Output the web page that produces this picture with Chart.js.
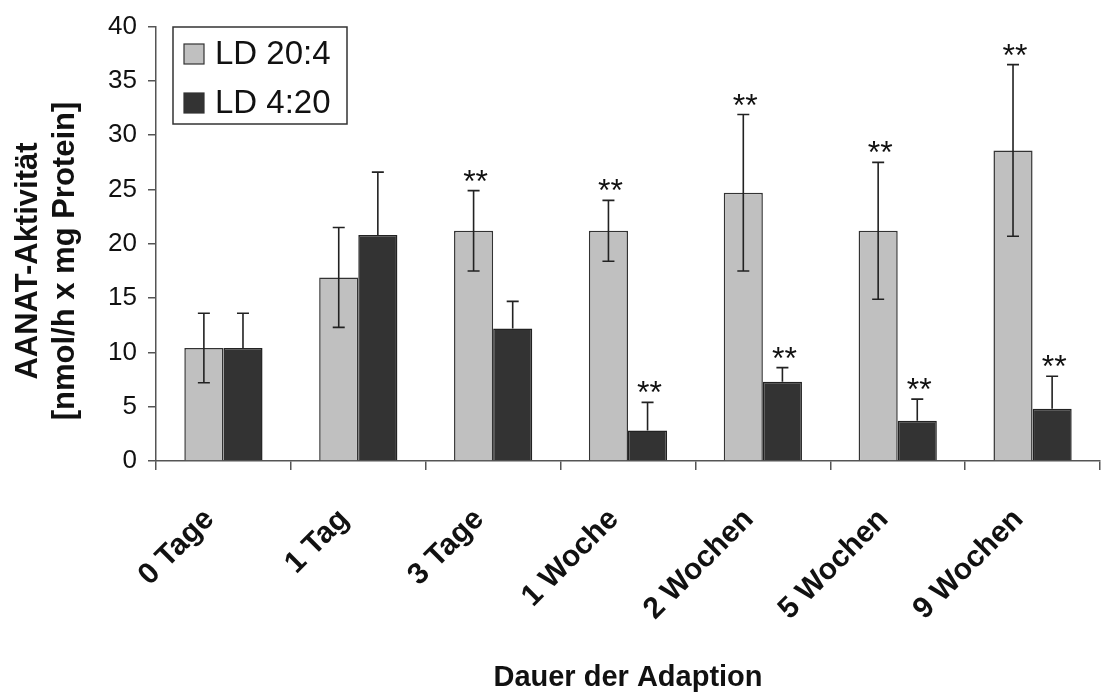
<!DOCTYPE html>
<html>
<head>
<meta charset="utf-8">
<script src="https://cdn.jsdelivr.net/npm/chart.js@4/dist/chart.umd.min.js"></script>
<style>
  html, body { margin: 0; padding: 0; background: #fff; }
  #wrap { width: 1101px; height: 695px; position: relative; }
</style>
</head>
<body>
<div id="wrap"><canvas id="chart" width="1101" height="695"></canvas></div>
<script>
const categories = ['0 Tage', '1 Tag', '3 Tage', '1 Woche', '2 Wochen', '5 Wochen', '9 Wochen'];
const seriesNames = ['LD 20:4', 'LD 4:20'];
const ld204 = [10.4, 16.9, 21.2, 21.2, 24.7, 21.2, 28.6];
const ld204Err = [3.2, 4.6, 3.7, 2.8, 7.2, 6.3, 7.9];
const ld420 = [10.4, 20.8, 12.2, 2.8, 7.3, 3.7, 4.8];
const ld420Err = [3.2, 5.8, 2.5, 2.6, 1.3, 2.0, 3.0];
const sig204 = [false, false, true, true, true, true, true];
const sig420 = [false, false, false, true, true, true, true];
const yTicks = [0, 5, 10, 15, 20, 25, 30, 35, 40];

const FONT = "'Liberation Sans', Arial, Helvetica, sans-serif";
const colors = ['#c0c0c0', '#333333'];

// error bars, significance stars, legend and axis titles
const extras = {
  id: 'extras',
  afterDatasetsDraw(chart) {
    const ctx = chart.ctx;
    const y = chart.scales.y;
    const info = [[ld204, ld204Err, sig204, true], [ld420, ld420Err, sig420, false]];
    ctx.save();
    info.forEach(([vals, errs, sig, both], i) => {
      chart.getDatasetMeta(i).data.forEach((bar, j) => {
        const top = y.getPixelForValue(vals[j] + errs[j]);
        const bottom = both ? y.getPixelForValue(vals[j] - errs[j]) : bar.y;
        ctx.strokeStyle = '#222';
        ctx.lineWidth = 1.6;
        ctx.beginPath();
        ctx.moveTo(bar.x, top);
        ctx.lineTo(bar.x, bottom);
        ctx.moveTo(bar.x - 6, top);
        ctx.lineTo(bar.x + 6, top);
        if (both) {
          ctx.moveTo(bar.x - 6, bottom);
          ctx.lineTo(bar.x + 6, bottom);
        }
        ctx.stroke();
        if (sig[j]) {
          ctx.fillStyle = '#111';
          ctx.font = '32px ' + FONT;
          ctx.textAlign = 'center';
          ctx.textBaseline = 'alphabetic';
          ctx.fillText('**', bar.x + 2, top + 1);
        }
      });
    });
    ctx.restore();
  },
  afterDraw(chart) {
    const ctx = chart.ctx;
    ctx.save();
    // legend
    ctx.fillStyle = '#fff';
    ctx.fillRect(173, 27, 174, 97);
    ctx.strokeStyle = '#333';
    ctx.lineWidth = 1.5;
    ctx.strokeRect(173, 27, 174, 97);
    seriesNames.forEach((name, i) => {
      const cy = 54 + i * 49;
      ctx.fillStyle = colors[i];
      ctx.fillRect(184, cy - 10, 20, 20);
      ctx.strokeStyle = '#333';
      ctx.lineWidth = 1.2;
      ctx.strokeRect(184, cy - 10, 20, 20);
      ctx.fillStyle = '#111';
      ctx.font = '33px ' + FONT;
      ctx.textAlign = 'left';
      ctx.textBaseline = 'middle';
      ctx.fillText(name, 215, cy + 1);
    });
    // y title
    ctx.fillStyle = '#111';
    ctx.font = 'bold 31px ' + FONT;
    ctx.textAlign = 'center';
    ctx.textBaseline = 'middle';
    ctx.translate(0, 261);
    ctx.rotate(-Math.PI / 2);
    ctx.fillText('AANAT-Aktivität', 0, 28);
    ctx.fillText('[nmol/h x mg Protein]', 0, 65);
    ctx.restore();
  }
};

new Chart(document.getElementById('chart'), {
  type: 'bar',
  data: {
    labels: categories,
    datasets: [
      { label: seriesNames[0], data: ld204, backgroundColor: colors[0], borderColor: '#333', borderWidth: 1.5 },
      { label: seriesNames[1], data: ld420, backgroundColor: colors[1], borderColor: '#222', borderWidth: 1.5 }
    ]
  },
  options: {
    responsive: false,
    animation: false,
    events: [],
    layout: { padding: { top: 24, right: 1, left: 0, bottom: 0 } },
    datasets: { bar: { categoryPercentage: 0.58, barPercentage: 1.0 } },
    plugins: { legend: { display: false }, tooltip: { enabled: false } },
    scales: {
      x: {
        offset: true,
        grid: { offset: true, drawOnChartArea: false, drawTicks: true, tickLength: 9, color: '#555', lineWidth: 1.5 },
        border: { color: '#555', width: 1.5 },
        ticks: {
          color: '#111', minRotation: 45, maxRotation: 45, padding: 32, labelOffset: -14,
          font: { family: FONT, size: 30, weight: 'bold' }
        },
        title: {
          display: true, text: 'Dauer der Adaption', color: '#111',
          font: { family: FONT, size: 29, weight: 'bold' }, padding: { top: 0, bottom: 0 }
        },
        afterFit(scale) { scale.height = 234; }
      },
      y: {
        min: 0, max: 40,
        afterBuildTicks(scale) { scale.ticks = yTicks.map(v => ({ value: v })); },
        grid: { drawOnChartArea: false, drawTicks: true, tickLength: 8, color: '#555', lineWidth: 1.5 },
        border: { color: '#555', width: 1.5 },
        ticks: { color: '#111', padding: 11, font: { family: FONT, size: 26 } },
        afterFit(scale) { scale.width = 156; }
      }
    }
  },
  plugins: [extras]
});
</script>
</body>
</html>
